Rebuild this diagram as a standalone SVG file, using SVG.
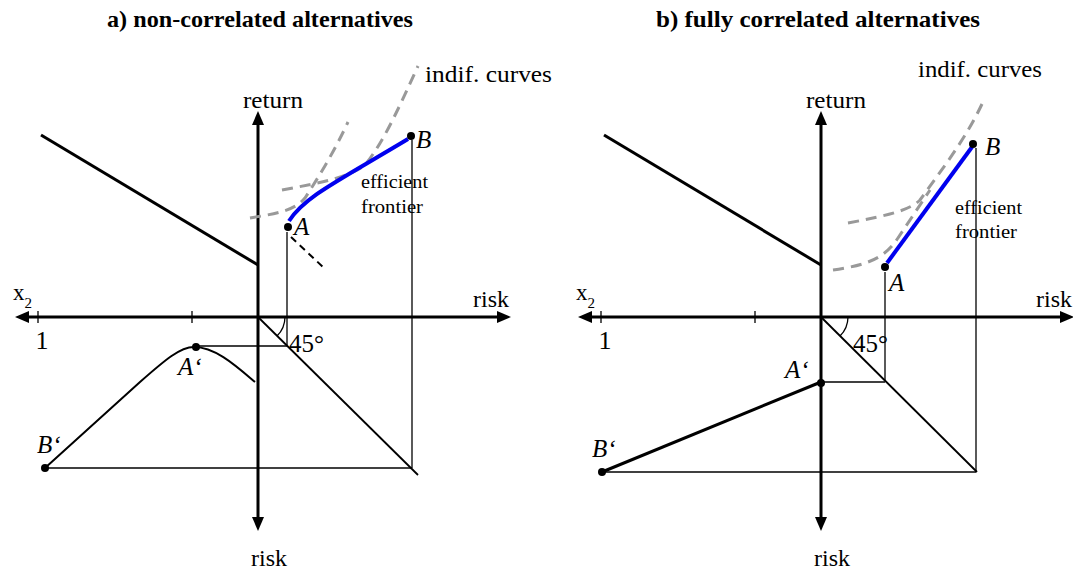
<svg xmlns="http://www.w3.org/2000/svg" width="1073" height="571" viewBox="0 0 1073 571">
<style>
text{font-family:"Liberation Serif","Times New Roman",serif;fill:#000}
.title{font-size:23px;font-weight:bold}
.lab{font-size:23px}
.big{font-size:26px}
.pt{font-size:25px;font-style:italic}
.sm{font-size:19px}
.axis{stroke:#000;stroke-width:3;fill:none}
.thick{stroke:#000;stroke-width:3;fill:none}
.thin{stroke:#000;stroke-width:1.3;fill:none}
.diag{stroke:#000;stroke-width:1.8;fill:none}
.curve{stroke:#000;stroke-width:2;fill:none}
.indif{stroke:#999;stroke-width:3;fill:none;stroke-dasharray:11 7}
.bdash{stroke:#000;stroke-width:2;fill:none;stroke-dasharray:7 5}
.eff{stroke:#0000ee;stroke-width:4;fill:none}
.head{fill:#000}
.dot{fill:#000}
</style>
<defs>
<g id="axes">
<line class="axis" x1="0" y1="124" x2="0" y2="518"/>
<polygon class="head" points="0,111 -6,125 6,125"/>
<polygon class="head" points="0,531 -6,517 6,517"/>
<line class="axis" x1="-229" y1="317" x2="239" y2="317"/>
<polygon class="head" points="-243,317 -229,311 -229,323"/>
<polygon class="head" points="253,317 239,311 239,323"/>
<line class="thin" x1="-220" y1="311" x2="-220" y2="323"/>
<line class="thin" x1="-66" y1="311" x2="-66" y2="323"/>
<line class="thick" x1="-217" y1="135" x2="0" y2="265"/>
<path class="thin" d="M27,317 A27,27 0 0 1 19,336"/>
</g>
</defs>
<text class="title" x="260" y="27" text-anchor="middle" textLength="306" lengthAdjust="spacingAndGlyphs">a) non-correlated alternatives</text>
<text class="title" x="818" y="27" text-anchor="middle" textLength="324" lengthAdjust="spacingAndGlyphs">b) fully correlated alternatives</text>

<g id="panel-a">
<g id="axes-a">
<use href="#axes" x="258" y="0"/>
<text class="lab" x="273" y="108" text-anchor="middle" textLength="60" lengthAdjust="spacingAndGlyphs">return</text>
<text class="lab" x="269" y="566" text-anchor="middle" textLength="36" lengthAdjust="spacingAndGlyphs">risk</text>
<text class="lab" x="509" y="307" text-anchor="end" textLength="36" lengthAdjust="spacingAndGlyphs">risk</text>
<text class="lab" x="13" y="300">x<tspan font-size="15" dy="8">2</tspan></text>
<text class="big" x="42" y="349" text-anchor="middle">1</text>
<text class="big" x="289" y="352" textLength="35" lengthAdjust="spacingAndGlyphs">45°</text>
</g>
<g id="connectors-a">
<line class="thin" x1="287" y1="232" x2="287" y2="345"/>
<line class="thin" x1="198" y1="346" x2="287" y2="346"/>
<line class="thin" x1="412" y1="140" x2="412" y2="468"/>
<line class="thin" x1="45" y1="468" x2="412" y2="468"/>
<line class="diag" x1="258" y1="317" x2="418" y2="475"/>
<path class="curve" d="M45,468 L140,382 C165,360 180,347 194,347 C215,347 235,365 255,382"/>
<path class="indif" d="M250,218 C280,213 295,210 305,198 C320,175 335,150 348,122"/>
<path class="indif" d="M282,190 C320,183 350,177 365,165 C385,140 400,105 418,66"/>
<path class="bdash" d="M291,237 L323,267"/>
<path class="eff" d="M289,221 C305,196 340,180 408,139"/>
</g>
<g id="node-A-a"><circle class="dot" cx="288" cy="227" r="4"/><text class="pt" x="294" y="235">A</text></g>
<g id="node-B-a"><circle class="dot" cx="411" cy="136" r="4"/><text class="pt" x="416" y="148">B</text></g>
<g id="node-A2-a"><circle class="dot" cx="196" cy="347" r="4"/><text class="pt" x="178" y="375">A‘</text></g>
<g id="node-B2-a"><circle class="dot" cx="45" cy="468" r="4"/><text class="pt" x="37" y="453">B‘</text></g>
<text class="lab" x="425" y="82" textLength="127" lengthAdjust="spacingAndGlyphs">indif. curves</text>
<text class="sm" x="361" y="188" textLength="67" lengthAdjust="spacingAndGlyphs">efficient</text>
<text class="sm" x="361" y="213" textLength="62" lengthAdjust="spacingAndGlyphs">frontier</text>
</g>

<g id="panel-b">
<g id="axes-b">
<use href="#axes" x="821" y="0"/>
<text class="lab" x="836" y="108" text-anchor="middle" textLength="60" lengthAdjust="spacingAndGlyphs">return</text>
<text class="lab" x="832" y="566" text-anchor="middle" textLength="36" lengthAdjust="spacingAndGlyphs">risk</text>
<text class="lab" x="1072" y="307" text-anchor="end" textLength="36" lengthAdjust="spacingAndGlyphs">risk</text>
<text class="lab" x="576" y="300">x<tspan font-size="15" dy="8">2</tspan></text>
<text class="big" x="605" y="349" text-anchor="middle">1</text>
<text class="big" x="853" y="352" textLength="35" lengthAdjust="spacingAndGlyphs">45°</text>
</g>
<g id="connectors-b">
<line class="thin" x1="885" y1="272" x2="885" y2="381"/>
<line class="thin" x1="822" y1="382" x2="885" y2="382"/>
<line class="thin" x1="976" y1="148" x2="976" y2="472"/>
<line class="thin" x1="602" y1="472" x2="976" y2="472"/>
<line class="diag" x1="821" y1="317" x2="977" y2="472"/>
<line class="thick" x1="602" y1="472" x2="821" y2="382"/>
<path class="indif" d="M833,270 C868,265 885,258 898,238 L930,190"/>
<path class="indif" d="M848,223 C890,215 910,210 920,200 C940,172 965,140 982,104"/>
<line class="eff" x1="887" y1="263" x2="972" y2="147"/>
</g>
<g id="node-A-b"><circle class="dot" cx="885" cy="267" r="4"/><text class="pt" x="889" y="291">A</text></g>
<g id="node-B-b"><circle class="dot" cx="973" cy="144" r="4"/><text class="pt" x="985" y="155">B</text></g>
<g id="node-A2-b"><circle class="dot" cx="821" cy="383" r="4"/><text class="pt" x="785" y="378">A‘</text></g>
<g id="node-B2-b"><circle class="dot" cx="602" cy="472" r="4"/><text class="pt" x="592" y="457">B‘</text></g>
<text class="lab" x="918" y="77" textLength="124" lengthAdjust="spacingAndGlyphs">indif. curves</text>
<text class="sm" x="955" y="214" textLength="67" lengthAdjust="spacingAndGlyphs">efficient</text>
<text class="sm" x="955" y="238" textLength="62" lengthAdjust="spacingAndGlyphs">frontier</text>
</g>
</svg>
